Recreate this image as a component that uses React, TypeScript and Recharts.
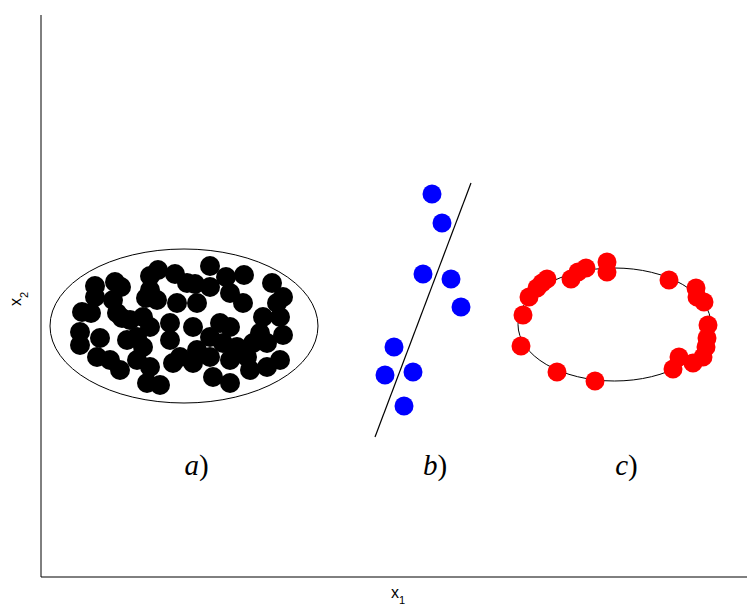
import React from 'react';
import { ScatterChart, Scatter, XAxis, YAxis, ReferenceArea, ReferenceLine } from 'recharts';

// Units: data coordinates (x from left axis, y from bottom axis)
const clusterA: [number, number][] = [
  [169, 311], [117, 307], [134, 303], [109, 301], [185, 300], [203, 302],
  [54, 291], [74, 295], [80, 290], [54, 280], [72, 277],
  [41, 265], [50, 264], [76, 264], [81, 259], [89, 257], [102, 260],
  [109, 250], [96, 240], [86, 237], [109, 287], [105, 279], [116, 277],
  [146, 294], [136, 274], [154, 293], [129, 254], [129, 237], [139, 220],
  [132, 214], [152, 214], [39, 245], [39, 232], [59, 239], [56, 220],
  [69, 217], [79, 207], [96, 217], [109, 210], [106, 194], [119, 192],
  [102, 230], [169, 290], [189, 284], [202, 274], [231, 294], [242, 280],
  [236, 274], [222, 260], [239, 260], [242, 242], [219, 244], [226, 234],
  [212, 234], [239, 217], [226, 210], [156, 274], [152, 250], [156, 227],
  [179, 254], [189, 250], [169, 240], [182, 234], [196, 230], [206, 220],
  [169, 220], [189, 217], [172, 200], [189, 194], [209, 207],
];

const clusterB: [number, number][] = [
  [391, 383], [401, 354], [382, 303], [410, 298], [420, 270],
  [353, 230], [344, 202], [372, 205], [363, 171],
];

const clusterC: [number, number][] = [
  [566, 315], [566, 305], [545, 309], [537, 305], [530, 298], [506, 298], [501, 294],
  [496, 289], [488, 280], [482, 262], [480, 231], [516, 205], [554, 196], [628, 297],
  [655, 289], [656, 280], [663, 275], [667, 252], [666, 239], [665, 230], [662, 220],
  [652, 214], [638, 220], [632, 208],
];

const ellipseA = { x1: 9, x2: 277, y1: 174, y2: 328 };
const ellipseC = { x1: 477, x2: 670, y1: 196, y2: 309 };
const lineB = [{ x: 430, y: 394 }, { x: 334, y: 140 }];

const panelLabels = [
  { x: 155.5, y: 102, letter: 'a' },
  { x: 394, y: 102, letter: 'b' },
  { x: 585.5, y: 102, letter: 'c' },
];

const xDomain = [0, 706];
const yDomain = [0, 562];

const toPts = (arr: [number, number][]) => arr.map(([x, y]) => ({ x, y }));

const dot = (r: number, fill: string) => (p: any) => (
  <circle cx={p.cx} cy={p.cy} r={r} fill={fill} />
);

const ellipseShape = (p: any) => (
  <ellipse
    cx={p.x + p.width / 2}
    cy={p.y + p.height / 2}
    rx={p.width / 2}
    ry={p.height / 2}
    fill="none"
    stroke="#000"
    strokeWidth={1}
  />
);

const labelShape = (p: any) => (
  <text
    x={p.cx}
    y={p.cy}
    textAnchor="middle"
    fontFamily="'Liberation Serif', serif"
    fontSize={29}
    fill="#000"
  >
    <tspan fontStyle="italic">{p.payload.letter}</tspan>
    <tspan>)</tspan>
  </text>
);

const xLabel = (props: any) => {
  const vb = props.viewBox;
  return (
    <text x={vb.x + vb.width / 2 - 3} y={vb.y + 21} fontFamily="'Liberation Sans', Arial, sans-serif" fontSize={16} fill="#000">
      x<tspan fontSize={11} dy={6}>1</tspan>
    </text>
  );
};

const yLabel = () => {
  const cx = 21;
  const cy = 306;
  return (
    <text
      x={cx}
      y={cy}
      transform={`rotate(-90, ${cx}, ${cy})`}
      fontFamily="'Liberation Sans', Arial, sans-serif"
      fontSize={16}
      fill="#000"
    >
      x<tspan fontSize={11} dy={7}>2</tspan>
    </text>
  );
};

export default function App() {
  return (
    <div style={{ position: 'absolute', left: 0, top: 0, width: 747, height: 606, background: '#fff' }}>
      <ScatterChart width={747} height={606} margin={{ top: 15, right: 0, bottom: 0, left: 0 }}>
        <XAxis
          type="number"
          dataKey="x"
          domain={xDomain}
          allowDataOverflow
          tick={false}
          tickLine={false}
          axisLine={{ stroke: '#000', strokeWidth: 1 }}
          height={29}
          label={{ content: xLabel }}
        />
        <YAxis
          type="number"
          dataKey="y"
          domain={yDomain}
          allowDataOverflow
          tick={false}
          tickLine={false}
          axisLine={{ stroke: '#000', strokeWidth: 1 }}
          width={41}
          label={{ content: yLabel }}
        />
        <ReferenceArea {...ellipseA} shape={ellipseShape} ifOverflow="visible" />
        <ReferenceArea {...ellipseC} shape={ellipseShape} ifOverflow="visible" />
        <ReferenceLine segment={lineB} stroke="#000" strokeWidth={1.2} ifOverflow="visible" />
        <Scatter data={toPts(clusterA)} shape={dot(10, '#000')} isAnimationActive={false} />
        <Scatter data={toPts(clusterB)} shape={dot(9.5, '#0000ff')} isAnimationActive={false} />
        <Scatter data={toPts(clusterC)} shape={dot(9.5, '#ff0000')} isAnimationActive={false} />
        <Scatter data={panelLabels} shape={labelShape} isAnimationActive={false} />
      </ScatterChart>
    </div>
  );
}
